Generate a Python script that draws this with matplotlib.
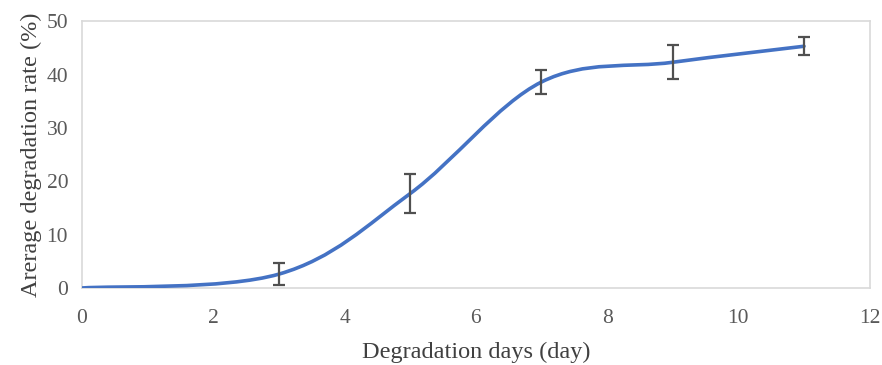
import matplotlib.pyplot as plt
import numpy as np
from matplotlib.path import Path
from matplotlib.patches import PathPatch

plt.rcParams['font.family'] = ['Liberation Serif', 'DejaVu Serif']

days = [0, 3, 5, 7, 9, 11]
rate = [0.0, 2.6, 17.7, 38.6, 42.3, 45.3]
err_days = [3, 5, 7, 9, 11]
err_rate = [2.6, 17.7, 38.6, 42.3, 45.3]
err_size = [2.1, 3.7, 2.25, 3.2, 1.7]

xticks = [0, 2, 4, 6, 8, 10, 12]
yticks = [0, 10, 20, 30, 40, 50]


def smooth_path(x, y):
    # excel-style smoothed line: bezier segments, control points from neighbours
    pts = np.column_stack([x, y])
    verts = [pts[0]]
    codes = [Path.MOVETO]
    n = len(pts)
    for i in range(n - 1):
        p0 = pts[i - 1] if i > 0 else pts[i]
        p1 = pts[i]
        p2 = pts[i + 1]
        p3 = pts[i + 2] if i + 2 < n else pts[i + 1]
        c1 = p1 + (p2 - p0) / 6.0
        c2 = p2 - (p3 - p1) / 6.0
        verts += [c1, c2, p2]
        codes += [Path.CURVE4] * 3
    return Path(verts, codes)


fig = plt.figure(figsize=(8.82, 3.65), dpi=100)
ax = fig.add_axes([0.093, 0.211, 0.893, 0.731])

line_path = smooth_path(days, rate)
ax.add_patch(PathPatch(line_path, facecolor='none', edgecolor='#4472C4',
                       lw=2.6, capstyle='round', zorder=3))

ax.errorbar(err_days, err_rate, yerr=err_size, fmt='none', ecolor='#505050',
            elinewidth=1.6, capsize=4.5, capthick=1.6, zorder=4)

ax.set_xlim(0, 12)
ax.set_ylim(0, 50)
ax.set_xticks(xticks)
ax.set_yticks(yticks)
ax.tick_params(length=0, labelsize=15.5, colors='#595959')
ax.tick_params(axis='x', pad=15)
ax.tick_params(axis='y', pad=10)
for s in ax.spines.values():
    s.set_color('#D9D9D9')
    s.set_linewidth(1.2)

ax.set_xlabel('Degradation days (day)', fontsize=17.5, color='#404040', labelpad=10)
ax.set_ylabel('Arerage degradation rate (%)', fontsize=17.5, color='#404040', labelpad=3)

fig.savefig('out.png', dpi=100)
